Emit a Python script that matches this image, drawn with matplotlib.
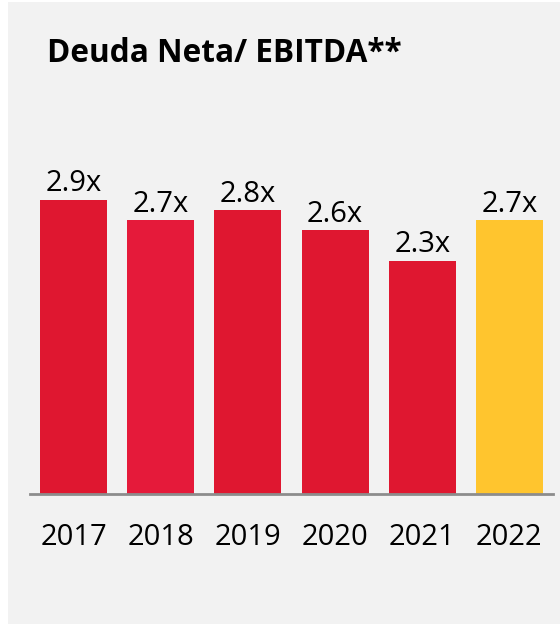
import matplotlib
matplotlib.use('Agg')
import matplotlib.pyplot as plt
from matplotlib.patches import Rectangle

years = ['2017', '2018', '2019', '2020', '2021', '2022']
ratios = [2.9, 2.7, 2.8, 2.6, 2.3, 2.7]
labels = ['2.9x', '2.7x', '2.8x', '2.6x', '2.3x', '2.7x']
colors = ['#DF1730', '#E51A3A', '#DF1730', '#DF1730', '#DF1730', '#FFC52E']

W, H = 560, 624
plt.rcParams['font.family'] = ['Open Sans', 'DejaVu Sans']

fig = plt.figure(figsize=(W / 100, H / 100), dpi=100)
fig.patch.set_facecolor('white')
# grey card behind everything
fig.patches.append(Rectangle((8 / W, 0), 1 - 8 / W, 1 - 2 / H,
                             transform=fig.transFigure, facecolor='#F2F2F2',
                             edgecolor='none', zorder=-10))

px_per_unit = 101.4
base = 494
ymax = 3.5
ax = fig.add_axes([30 / W, 1 - base / H, 523 / W, ymax * px_per_unit / H])
ax.set_facecolor('none')
ax.set_zorder(1)

x = range(len(years))
ax.bar(x, ratios, width=0.77, color=colors, zorder=2)
for i, (v, lab) in enumerate(zip(ratios, labels)):
    ax.text(i, v + 0.015, lab, ha='center', va='bottom', fontsize=21, color='black')

ax.set_xlim(-0.5, len(years) - 0.5)
ax.set_ylim(0, ymax)
for s in ['top', 'right', 'left']:
    ax.spines[s].set_visible(False)
ax.spines['bottom'].set_color('#8C8C8C')
ax.spines['bottom'].set_linewidth(2)
ax.set_yticks([])
ax.set_xticks(list(x))
ax.set_xticklabels(years, fontsize=21)
ax.tick_params(axis='x', length=0, pad=21)

fig.text(47 / W, 1 - 62 / H, 'Deuda Neta/ EBITDA**', fontsize=22.7, fontweight='bold',
         ha='left', va='baseline')

fig.savefig('out.png', dpi=100, facecolor=fig.get_facecolor())
